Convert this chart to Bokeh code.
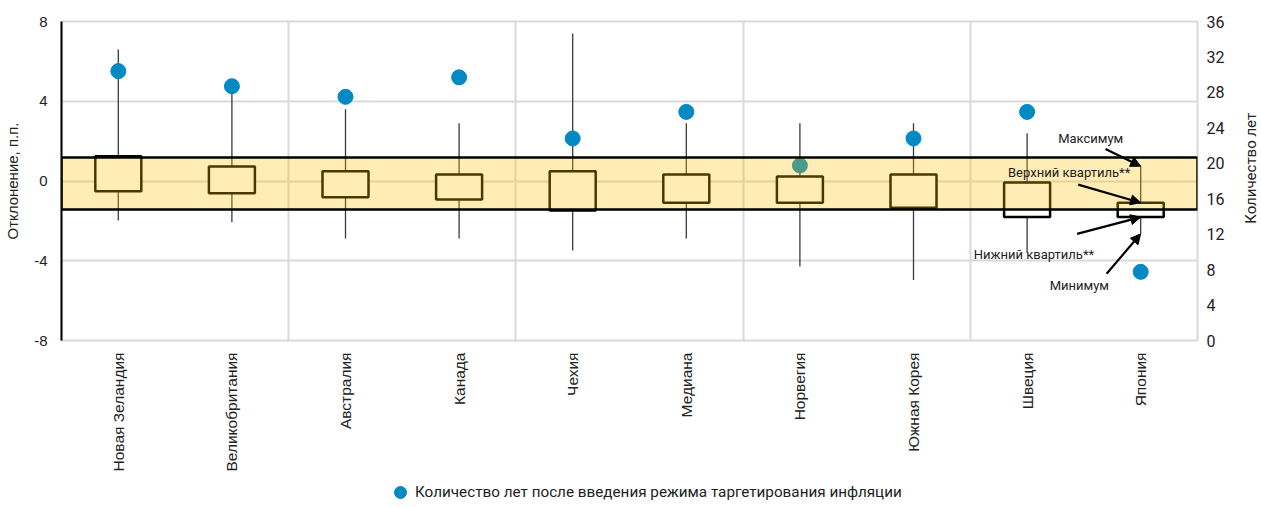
from math import pi
from bokeh.plotting import figure
from bokeh.layouts import column, row
from bokeh.models import (Range1d, LinearAxis, FixedTicker, BoxAnnotation, Label,
                          Arrow, NormalHead, Legend, LegendItem, ColumnDataSource)
from bokeh.embed import file_html
from bokeh.resources import INLINE

# ---------------- data ----------------
countries = ["Новая Зеландия", "Великобритания", "Австралия", "Канада", "Чехия",
             "Медиана", "Норвегия", "Южная Корея", "Швеция", "Япония"]
whisker_max = [6.6, 4.4, 3.6, 2.9, 7.4, 2.9, 2.9, 2.9, 2.4, 0.74]
q3 = [1.24, 0.73, 0.49, 0.33, 0.49, 0.33, 0.23, 0.33, -0.08, -1.09]
q1 = [-0.51, -0.61, -0.81, -0.93, -1.48, -1.09, -1.09, -1.34, -1.81, -1.81]
whisker_min = [-1.98, -2.07, -2.88, -2.88, -3.49, -2.88, -4.29, -4.96, -3.6, -2.65]
years = [30.4, 28.7, 27.5, 29.7, 22.8, 25.8, 19.75, 22.8, 25.8, 7.75]
band = [-1.43, 1.18]
left_ticks = [-8, -4, 0, 4, 8]
right_ticks = [0, 4, 8, 12, 16, 20, 24, 28, 32, 36]
legend_label = "Количество лет после введения режима таргетирования инфляции"
left_title = "Отклонение, п.п."
right_title = "Количество лет"

# ---------------- layout constants ----------------
FRAME_W, FRAME_H = 1136, 319
B_LEFT, B_RIGHT, B_TOP, B_BOTTOM = 61, 35, 21, 137
MAIN_W = B_LEFT + FRAME_W + B_RIGHT
MAIN_H = B_TOP + FRAME_H + B_BOTTOM
TITLE_W = 1261 - MAIN_W
LEG_H = 30

AX_FONT = "Liberation Sans"
COND = "Roboto"

xs = [i + 0.5 for i in range(len(countries))]
src = ColumnDataSource(dict(x=xs, wmax=whisker_max, q3=q3, q1=q1, wmin=whisker_min, years=years))

p = figure(frame_width=FRAME_W, frame_height=FRAME_H,
           x_range=Range1d(0, len(countries)), y_range=Range1d(-8, 8),
           output_backend="svg", toolbar_location=None,
           min_border_left=B_LEFT, min_border_right=B_RIGHT, min_border_top=B_TOP,
           min_border_bottom=B_BOTTOM)
p.extra_y_ranges = {"years": Range1d(0, 36)}
p.background_fill_color = "white"
p.border_fill_color = "white"
p.outline_line_color = "#d9d9d9"
p.outline_line_width = 2

# left axis
ya = p.yaxis[0]
ya.ticker = FixedTicker(ticks=left_ticks)
ya.major_label_overrides = {t: str(t) for t in left_ticks}
ya.axis_line_color = "black"
ya.axis_line_width = 2
ya.major_tick_line_color = None
ya.major_tick_out = 0
ya.major_tick_in = 0
ya.minor_tick_line_color = None
ya.major_label_text_font = AX_FONT
ya.major_label_text_font_size = "15px"
ya.major_label_text_color = "#222222"
ya.major_label_standoff = 14
ya.axis_label = left_title
ya.axis_label_text_font = AX_FONT
ya.axis_label_text_font_size = "15px"
ya.axis_label_text_font_style = "normal"
ya.axis_label_text_color = "#222222"
ya.axis_label_standoff = 10

# right axis (ticks only; its title is drawn in the narrow panel next to it)
ra = LinearAxis(y_range_name="years", ticker=FixedTicker(ticks=right_ticks))
ra.axis_line_color = None
ra.major_tick_line_color = None
ra.major_tick_out = 0
ra.major_tick_in = 0
ra.minor_tick_line_color = None
ra.major_label_text_font = COND
ra.major_label_text_font_size = "16px"
ra.major_label_text_color = "#222222"
ra.major_label_standoff = 9
p.add_layout(ra, "right")

# x axis
xa = p.xaxis[0]
xa.ticker = FixedTicker(ticks=xs)
xa.major_label_overrides = {x: c for x, c in zip(xs, countries)}
xa.major_label_orientation = pi / 2
xa.major_label_text_font = AX_FONT
xa.major_label_text_font_size = "15.5px"
xa.major_label_text_color = "#222222"
xa.major_label_standoff = 12
xa.axis_line_color = None
xa.major_tick_line_color = None
xa.major_tick_out = 0
xa.major_tick_in = 0
xa.minor_tick_line_color = None

# grids
p.xgrid[0].ticker = FixedTicker(ticks=[2, 4, 6, 8])
p.xgrid[0].grid_line_color = "#d9d9d9"
p.xgrid[0].grid_line_width = 2
p.ygrid[0].grid_line_color = "#d9d9d9"
p.ygrid[0].grid_line_width = 2

# whiskers, boxes, dots
p.segment(x0="x", y0="wmin", x1="x", y1="wmax", source=src, line_color="#3a3a3a", line_width=1.3)
p.vbar(x="x", width=0.405, top="q3", bottom="q1", source=src,
       fill_color="white", line_color="black", line_width=2.5)
dots = p.scatter(x="x", y="years", y_range_name="years", source=src, size=15,
                 fill_color="#0089c2", line_color="#0089c2")

# target band (drawn over everything)
p.add_layout(BoxAnnotation(bottom=band[0], top=band[1], fill_color="#ffc000", fill_alpha=0.29,
                           line_color="black", line_alpha=1.0, line_width=2.5))

# annotations for the last box
jx = xs[-1]
ann = [
    ("Максимум", whisker_max[-1], (-0.31, 0.87), (9.06, 2.15)),
    ("Верхний квартиль**", q3[-1], (-0.55, 0.91), (8.87, 0.44)),
    ("Нижний квартиль**", q1[-1], (-0.56, -0.84), (8.56, -3.69)),
    ("Минимум", whisker_min[-1], (-0.30, -2.0), (8.96, -5.24)),
]
for text, yv, (dx, dy), (tx, ty) in ann:
    p.add_layout(Arrow(end=NormalHead(size=10, fill_color="black", line_color="black"),
                       x_start=jx + dx, y_start=yv + dy, x_end=jx, y_end=yv,
                       line_color="black", line_width=2.2))
    p.add_layout(Label(x=tx, y=ty, text=text, text_font=COND, text_font_size="13px",
                       text_align="center", text_baseline="middle", text_color="#222222"))

# ---------------- right title panel (reads bottom-to-top) ----------------
tp = figure(width=TITLE_W, height=MAIN_H, x_range=Range1d(0, TITLE_W), y_range=Range1d(MAIN_H, 0),
            output_backend="svg", toolbar_location=None, x_axis_type=None, y_axis_type=None,
            min_border=0)
tp.outline_line_color = None
tp.grid.visible = False
tp.add_layout(Label(x=TITLE_W - 11, y=B_TOP + FRAME_H / 2 + 39, text=right_title, angle=pi / 2,
                    text_font=COND, text_font_size="15px", text_color="#222222",
                    text_align="center", text_baseline="middle"))

# ---------------- legend panel ----------------
lp = figure(width=1261, height=LEG_H, x_range=Range1d(-2, -1), y_range=Range1d(-2, -1),
            output_backend="svg", toolbar_location=None, x_axis_type=None, y_axis_type=None,
            min_border=0)
lp.outline_line_color = None
lp.grid.visible = False
leg_dots = lp.scatter(x="x", y="years", source=src, size=15,
                      fill_color="#0089c2", line_color="#0089c2")
legend = Legend(items=[LegendItem(label=legend_label, renderers=[leg_dots])],
                location=(385, 0), orientation="horizontal",
                glyph_width=30, glyph_height=30, label_standoff=0,
                label_text_font=COND, label_text_font_size="15.25px", label_text_color="#222222",
                border_line_color=None, background_fill_alpha=0, padding=0, margin=0)
lp.add_layout(legend, "center")

layout = column(row(p, tp, spacing=0), lp, spacing=0)
open("out.html", "w").write(file_html(layout, INLINE))
